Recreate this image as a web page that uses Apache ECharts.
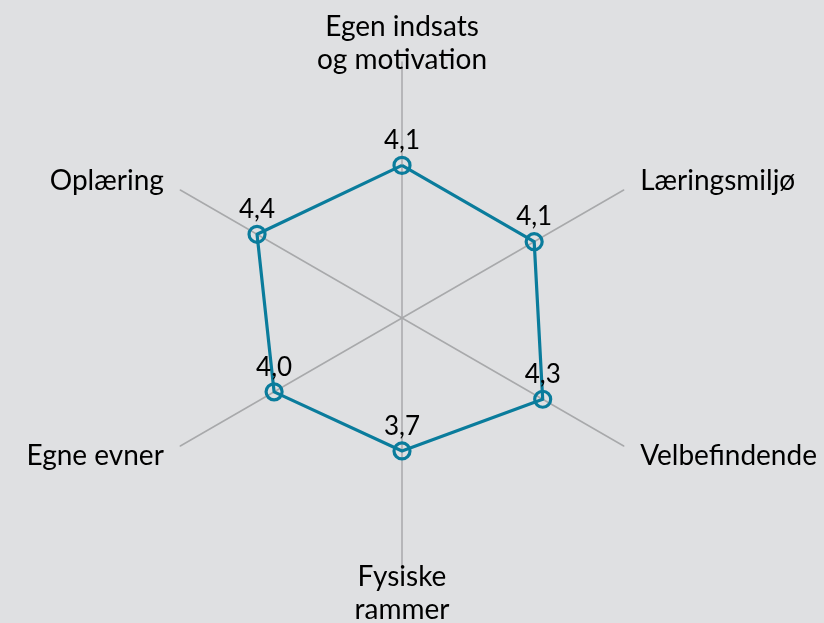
<!DOCTYPE html>
<html>
<head>
<meta charset="utf-8">
<script src="https://cdn.jsdelivr.net/npm/echarts@6/dist/echarts.min.js"></script>
<style>
  html, body { margin: 0; padding: 0; background: #dfe0e2; }
  #chart { width: 824px; height: 623px; }
</style>
</head>
<body>
<div id="chart"></div>
<script>
// indicators listed from the top, going round the way ECharts places them
const categories = ['Egen indsats\nog motivation', 'Oplæring', 'Egne evner', 'Fysiske\nrammer', 'Velbefindende', 'Læringsmiljø']
const scores = [4.1, 4.4, 4.0, 3.7, 4.3, 4.1]
const scaleMin = 1
const scaleMax = 6.2

const teal = '#0a7c9c'

const chart = echarts.init(document.getElementById('chart'))
chart.setOption({
  backgroundColor: '#dfe0e2',
  textStyle: { fontFamily: 'Lato' },
  radar: {
    center: [402, 318],
    radius: 256,
    startAngle: 90,
    indicator: categories.map(name => ({ name, min: scaleMin, max: scaleMax })),
    axisName: {
      color: '#000',
      fontSize: 28,
      lineHeight: 33,
      fontFamily: 'Lato',
      verticalAlign: 'middle'
    },
    nameGap: 19,
    splitNumber: 1,
    axisLine: { lineStyle: { color: '#a8a9ab', width: 1.5 } },
    axisTick: { show: false },
    splitLine: { show: false },
    splitArea: { show: false }
  },
  series: [{
    type: 'radar',
    symbol: 'circle',
    symbolSize: 16,
    lineStyle: { color: teal, width: 3.2 },
    itemStyle: { color: 'transparent', borderColor: teal, borderWidth: 3.2 },
    label: {
      show: true,
      position: 'top',
      distance: 2,
      color: '#000',
      fontSize: 26,
      fontFamily: 'Lato',
      formatter: p => {
        const v = Array.isArray(p.value) ? p.value[p.dimensionIndex] : p.value
        return Number(v).toFixed(1).replace('.', ',')
      }
    },
    data: [{ value: scores }]
  }]
})
</script>
</body>
</html>
